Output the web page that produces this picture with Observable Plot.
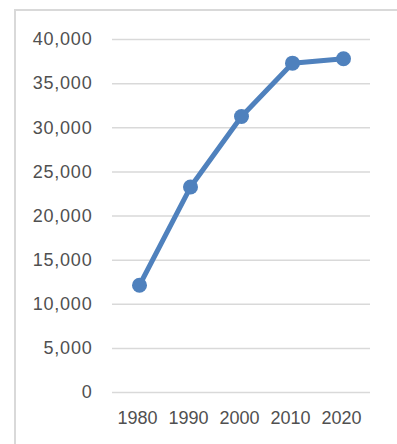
<!DOCTYPE html>
<html>
<head>
<meta charset="utf-8">
<script src="https://cdn.jsdelivr.net/npm/d3@7"></script>
<script src="https://cdn.jsdelivr.net/npm/@observablehq/plot@0.6"></script>
<style>
  html, body { margin: 0; padding: 0; background: #fff; }
  #wrap { position: relative; width: 397px; height: 444px; overflow: hidden; }
  #frame { position: absolute; left: 14px; top: 9px; width: 400px; height: 450px;
           border-left: 2px solid #d9d9d9; border-top: 2px solid #d9d9d9; box-sizing: border-box; }
  #chart { position: absolute; left: 0; top: 0; }
  #chart g[aria-label="y-axis tick label"] text { letter-spacing: 0.8px; }
</style>
</head>
<body>
<div id="wrap"><div id="frame"></div><div id="chart"></div></div>
<script>
const years = ["1980", "1990", "2000", "2010", "2020"];
const values = [12150, 23280, 31280, 37320, 37820];
const yTicks = [0, 5000, 10000, 15000, 20000, 25000, 30000, 35000, 40000];

const data = years.map((y, i) => ({year: y, value: values[i]}));
const blue = "#4f81bd";

const chart = Plot.plot({
  width: 397,
  height: 444,
  marginLeft: 112,
  marginRight: 27,
  marginTop: 39,
  marginBottom: 52,
  style: {fontFamily: "'Liberation Sans', Arial, sans-serif", fontSize: "17px", color: "#595959", background: "transparent"},
  x: {type: "point", domain: years, padding: 0.5},
  y: {domain: [0, 40000]},
  marks: [
    Plot.gridY(yTicks, {stroke: "#d9d9d9", strokeOpacity: 1, strokeWidth: 1.5}),
    Plot.axisY(yTicks, {tickSize: 0, tickPadding: 20, tickFormat: d => d3.format(",")(d), label: null, fontSize: 18, fill: "#505050"}),
    Plot.axisX({tickSize: 0, tickPadding: 19, dx: -2, label: null, fontSize: 18, fill: "#505050"}),
    Plot.line(data, {x: "year", y: "value", stroke: blue, strokeWidth: 5, strokeLinejoin: "round"}),
    Plot.dot(data, {x: "year", y: "value", r: 7.5, fill: blue, stroke: null})
  ]
});
document.getElementById("chart").appendChild(chart);
</script>
</body>
</html>
